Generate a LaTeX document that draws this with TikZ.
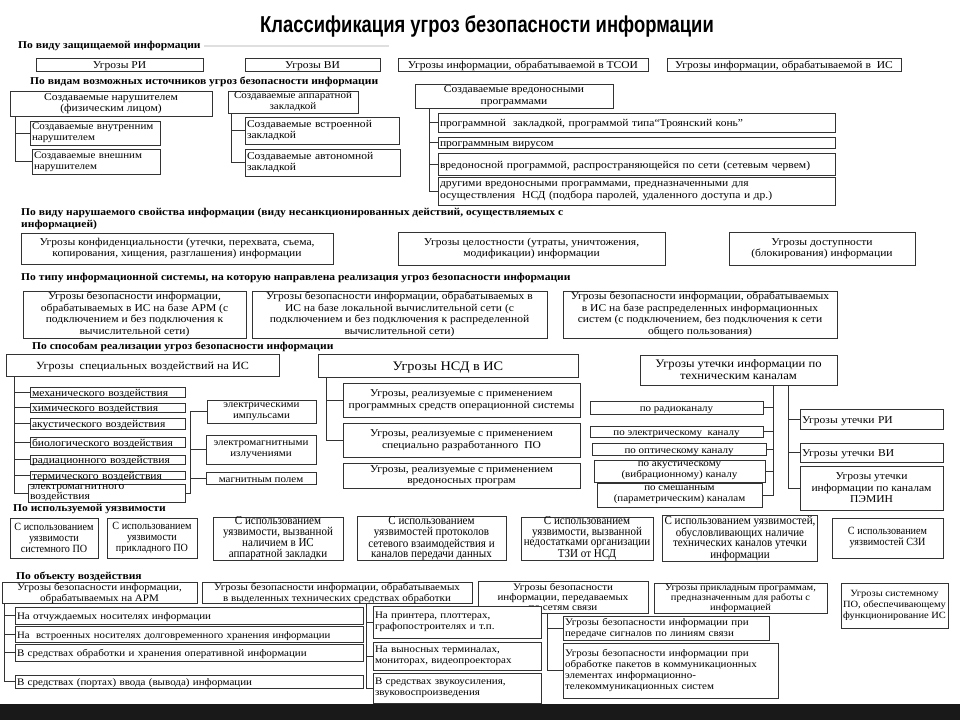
\documentclass[tikz,border=0pt]{standalone}
\usepackage{fontspec}
\setmainfont{Liberation Serif}[FakeStretch=1.1]
\newfontfamily\titlefont{Liberation Sans}[FakeStretch=0.8]
\newfontfamily\narrowfont{Liberation Serif}[FakeStretch=0.92]
\usetikzlibrary{calc,positioning}
\tikzset{
  wire/.style={line width=0.7pt, draw=black!80},
  box/.style={draw=black!80, line width=0.8pt, fill=white, inner xsep=2pt, inner ysep=0pt,
              align=center, font=\fontsize{10.5}{11.5}\selectfont},
  lbox/.style={align=left, text width=\bxt pt},
  one/.style={text height=8pt, text depth=0pt},
  small/.style={font=\fontsize{10}{11}\selectfont},
  vbox/.style={font=\narrowfont\fontsize{12}{10.5}\selectfont},
  vsmall/.style={font=\narrowfont\fontsize{11}{11}\selectfont},
  head/.style={anchor=west, inner sep=0pt, align=left, font=\bfseries\fontsize{10.5}{11.5}\selectfont}
}
% box from (x1,y1) to (x2,y2), picture units are pixels
\newcommand{\bx}[7][]{%
  \pgfmathsetmacro{\bxw}{#5-#3}\pgfmathsetmacro{\bxh}{#6-#4}\pgfmathsetmacro{\bxt}{#5-#3-4}%
  \node[box, minimum width=\bxw pt, minimum height=\bxh pt, #1]
    (#2) at ({(#3+#5)/2},{(#4+#6)/2}) {#7};}

\begin{document}
\begin{tikzpicture}[x=1pt,y=-1pt]
  \useasboundingbox (0,0) rectangle (960,720);
  \fill[black!90] (0,704) rectangle (960,720);
  \node[font=\titlefont\bfseries\fontsize{23}{23}\selectfont] (title) at (487,26)
    {Классификация угроз безопасности информации};

  % by protected information
  \node[head] (h1) at (18,46) {По виду защищаемой информации};
  \draw[gray!25, line width=2pt] ([xshift=3pt]h1.east) -- ++(185,0);
  \bx[one]{ri}{36}{58}{203}{71}{Угрозы РИ}
  \bx[one]{vi}{245}{58}{380}{71}{Угрозы ВИ}
  \bx[one]{tsoi}{398}{58}{648}{71}{Угрозы информации, обрабатываемой в ТСОИ}
  \bx[one]{isinf}{667}{58}{901}{71}{Угрозы информации, обрабатываемой в~~ИС}

  % by sources
  \node[head] (h2) at (30,82) {По видам возможных источников угроз безопасности информации};
  \bx{src}{10}{91}{212}{116}{Создаваемые нарушителем\\(физическим лицом)}
  \bx[lbox, small]{src1}{30}{121}{160}{145}{Создаваемые внутренним\\нарушителем}
  \bx[lbox, small]{src2}{32}{149}{160}{174}{Создаваемые внешним\\нарушителем}
  \bx[small]{hw}{228}{91}{358}{113}{Создаваемые аппаратной\\закладкой}
  \bx[lbox]{hw1}{245}{117}{399}{144}{Создаваемые встроенной\\закладкой}
  \bx[lbox]{hw2}{245}{149}{400}{176}{Создаваемые автономной\\закладкой}
  \bx{mw}{415}{84}{613}{108}{Создаваемые вредоносными\\программами}
  \bx[lbox, one]{mw1}{438}{113}{835}{132}{программной~~закладкой, программой типа“Троянский конь”}
  \bx[lbox, one]{mw2}{438}{137}{835}{148}{программным вирусом}
  \bx[lbox, one]{mw3}{438}{153}{835}{175}{вредоносной программой, распространяющейся по сети (сетевым червем)}
  \bx[lbox]{mw4}{438}{177}{835}{205}{другими вредоносными программами, предназначенными для\\осуществления~~НСД (подбора паролей, удаленного доступа и др.)}
  \foreach \c in {src1,src2} \draw[wire] ([xshift=6pt]src.south west) |- (\c.west);
  \foreach \c in {hw1,hw2} \draw[wire] ([xshift=4pt]hw.south west) |- (\c.west);
  \foreach \c in {mw1,mw2,mw3,mw4} \draw[wire] ([xshift=15pt]mw.south west) |- (\c.west);

  % by violated property
  \node[head] (h3) at (21,219) {По виду нарушаемого свойства информации (виду несанкционированных действий, осуществляемых с\\информацией)};
  \bx{conf}{21}{233}{333}{264}{Угрозы конфиденциальности (утечки, перехвата, съема,\\копирования, хищения, разглашения) информации}
  \bx{integ}{398}{232}{665}{265}{Угрозы целостности (утраты, уничтожения,\\модификации) информации}
  \bx{avail}{729}{232}{915}{265}{Угрозы доступности\\(блокирования) информации}

  % by type of IS
  \node[head] (h4) at (21,278) {По типу информационной системы, на которую направлена реализация угроз безопасности информации};
  \bx{is1}{23}{291}{246}{338}{Угрозы безопасности информации,\\обрабатываемых в ИС на базе АРМ (с\\подключением и без подключения к\\вычислительной сети)}
  \bx{is2}{252}{291}{547}{338}{Угрозы безопасности информации, обрабатываемых в\\ИС на базе локальной вычислительной сети (с\\подключением и без подключения к распределенной\\вычислительной сети)}
  \bx{is3}{563}{291}{837}{338}{Угрозы безопасности информации, обрабатываемых\\в ИС на базе распределенных информационных\\систем (с подключением, без подключения к сети\\общего пользования)}

  % by implementation
  \node[head] (h5) at (32,347) {По способам реализации угроз безопасности информации};
  \bx[one, font=\fontsize{11}{12}\selectfont]{spec}{6}{354}{279}{376}{Угрозы~~специальных воздействий на ИС}
  \bx[lbox, one]{s1}{30}{387}{185}{397}{механического воздействия}
  \bx[lbox, one]{s2}{30}{403}{185}{412}{химического воздействия}
  \bx[lbox, one]{s3}{30}{418}{185}{429}{акустического воздействия}
  \bx[lbox, one]{s4}{30}{437}{185}{447}{биологического воздействия}
  \bx[lbox, one]{s5}{30}{455}{185}{464}{радиационного воздействия}
  \bx[lbox, one]{s6}{30}{471}{185}{479}{термического воздействия}
  \bx[lbox, font=\fontsize{10.5}{9}\selectfont]{s7}{28}{484}{185}{502}{электромагнитного\\воздействия}
  \bx[small]{e1}{207}{400}{316}{423}{электрическими\\импульсами}
  \bx[small]{e2}{206}{435}{316}{464}{электромагнитными\\излучениями}
  \bx[small, one]{e3}{206}{472}{316}{484}{магнитным полем}
  \foreach \i in {1,...,7} \draw[wire] ([xshift=9pt]spec.south west) |- (s\i.west);
  \foreach \i in {1,2,3} \draw[wire] (s7.east) -- ++(5,0) |- (e\i.west);

  \bx[font=\fontsize{13}{14}\selectfont, text height=10pt, text depth=1pt]{nsd}{318}{354}{578}{377}{Угрозы НСД в ИС}
  \bx{n1}{343}{383}{580}{417}{Угрозы, реализуемые с применением\\программных средств операционной системы}
  \bx{n2}{343}{423}{580}{457}{Угрозы, реализуемые с применением\\специально разработанного~~ПО}
  \bx{n3}{343}{463}{580}{488}{Угрозы, реализуемые с применением\\вредоносных програм}
  \foreach \i in {1,2} \draw[wire] ([xshift=9pt]nsd.south west) |- (n\i.west);

  \bx[font=\fontsize{11.5}{12}\selectfont]{leak}{640}{355}{837}{385}{Угрозы утечки информации по\\техническим каналам}
  \bx[small, one]{l1}{590}{401}{763}{414}{по радиоканалу}
  \bx[small, one]{l2}{590}{426}{763}{437}{по электрическому~~каналу}
  \bx[small, one]{l3}{592}{443}{766}{455}{по оптическому каналу}
  \bx[small]{l4}{594}{460}{765}{482}{по акустическому\\(вибрационному) каналу}
  \bx[small]{l5}{597}{483}{762}{507}{по смешанным\\(параметрическим) каналам}
  \bx[lbox, one]{r1}{800}{409}{943}{429}{Угрозы утечки РИ}
  \bx[lbox, one]{r2}{800}{443}{943}{462}{Угрозы утечки ВИ}
  \bx{r3}{800}{466}{943}{510}{Угрозы утечки\\информации по каналам\\ПЭМИН}
  \foreach \i in {1,...,5} \draw[wire] ([xshift=134pt]leak.south west) |- (l\i.east);
  \foreach \i in {1,2,3} \draw[wire] ([xshift=149pt]leak.south west) |- (r\i.west);

  % by vulnerability
  \node[head] (h6) at (13,509) {По используемой уязвимости};
  \bx[vsmall]{v1}{10}{518}{98}{558}{С использованием\\уязвимости\\системного ПО}
  \bx[vsmall]{v2}{107}{518}{197}{558}{С использованием\\уязвимости\\прикладного ПО}
  \bx[vbox]{v3}{213}{517}{343}{560}{С использованием\\уязвимости, вызванной\\наличием в ИС\\аппаратной закладки}
  \bx[vbox]{v4}{357}{517}{506}{560}{С использованием\\уязвимостей протоколов\\сетевого взаимодействия и\\каналов передачи данных}
  \bx[vbox]{v5}{521}{517}{653}{560}{С использованием\\уязвимости, вызванной\\недостатками организации\\ТЗИ от НСД}
  \bx[vbox]{v6}{663}{517}{817}{560}{С использованием уязвимостей,\\обусловливающих наличие\\технических каналов утечки\\информации}
  \bx[vsmall]{v7}{832}{518}{943}{558}{С использованием\\уязвимостей СЗИ}

  % by object
  \node[head] (h7) at (16,577) {По объекту воздействия};
  \bx[small]{o1}{2}{583}{197}{603}{Угрозы безопасности информации,\\обрабатываемых на АРМ}
  \bx[small]{o2}{202}{583}{472}{603}{Угрозы безопасности информации, обрабатываемых\\в выделенных технических средствах обработки}
  \bx[font=\fontsize{10}{10}\selectfont]{o3}{478}{581}{648}{613}{Угрозы безопасности\\информации, передаваемых\\по сетям связи}
  \bx[font=\fontsize{9.5}{10}\selectfont]{o4}{654}{583}{827}{613}{Угрозы прикладным программам,\\предназначенным для работы с\\информацией}
  \bx[font=\fontsize{9.5}{11}\selectfont]{o5}{841}{583}{948}{628}{Угрозы системному\\ПО, обеспечивающему\\функционирование ИС}
  \bx[lbox, small, one]{p1}{15}{607}{363}{624}{На отчуждаемых носителях информации}
  \bx[lbox, one, font=\fontsize{9.8}{11}\selectfont]{p2}{15}{626}{363}{642}{На~~встроенных носителях долговременного хранения информации}
  \bx[lbox, small, one]{p3}{15}{644}{363}{661}{В средствах обработки и хранения оперативной информации}
  \bx[lbox, small, one]{p4}{15}{675}{363}{688}{В средствах (портах) ввода (вывода) информации}
  \bx[lbox, small]{q1}{373}{606}{541}{638}{На принтера, плоттерах,\\графопостроителях и т.п.}
  \bx[lbox, small]{q2}{373}{642}{541}{670}{На выносных терминалах,\\мониторах, видеопроекторах}
  \bx[lbox, small]{q3}{373}{673}{541}{703}{В средствах звукоусиления,\\звуковоспроизведения}
  \bx[lbox, small]{t1}{563}{616}{769}{640}{Угрозы безопасности информации при\\передаче сигналов по линиям связи}
  \bx[lbox, small]{t2}{563}{643}{778}{698}{Угрозы безопасности информации при\\обработке пакетов в коммуникационных\\элементах информационно-\\телекоммуникационных систем}
  \foreach \i in {1,...,4} \draw[wire] ([xshift=3pt]o1.south west) |- (p\i.west);
  \foreach \i in {1,2,3} \draw[wire] ([xshift=165pt]o2.south west) |- (q\i.west);
  \foreach \i in {1,2} \draw[wire] ([xshift=70pt]o3.south west) |- (t\i.west);
\end{tikzpicture}
\end{document}
